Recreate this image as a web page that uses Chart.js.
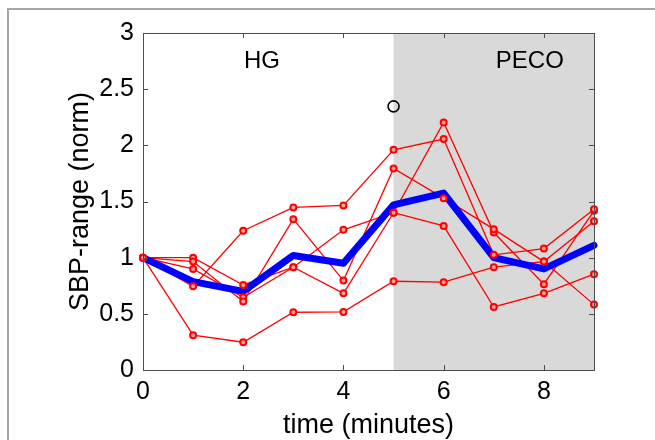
<!DOCTYPE html>
<html>
<head>
<meta charset="utf-8">
<script src="https://cdn.jsdelivr.net/npm/chart.js@4"></script>
<style>
  html, body { margin: 0; padding: 0; background: #fff; overflow: hidden; }
  #frame { position: absolute; left: 7px; top: 8px; width: 800px; height: 600px; border: 2px solid #a6a6a6; }
  #myChart { position: absolute; left: 0; top: 0; }
</style>
</head>
<body>
<div id="frame"></div>
<canvas id="myChart" width="655" height="440"></canvas>
<script>
// time points (minutes)
const minutes = [0, 1, 2, 3, 4, 5, 6, 7, 8, 9];

// individual subjects, SBP-range normalised to baseline
const subjectA = [1, 0.745, 1.24, 1.447, 1.465, 1.96, 2.056, 1.025, 1.081, 1.432];
const subjectB = [1, 0.965, 0.609, 1.343, 0.796, 1.794, 1.53, 1.254, 0.965, 0.582];
const subjectC = [1, 1.0, 0.757, 0.915, 0.683, 1.40, 2.204, 1.224, 0.764, 1.417];
const subjectD = [1, 0.90, 0.648, 0.915, 1.248, 1.40, 1.283, 0.561, 0.683, 0.853];
const subjectE = [1, 0.31, 0.247, 0.514, 0.517, 0.79, 0.782, 0.915, 0.965, 1.325];

// group mean
const meanValues = [1, 0.787, 0.70, 1.02, 0.95, 1.47, 1.575, 1.0, 0.9, 1.11];

// significance marker
const markerX = [5];
const markerY = [2.347];

// phases
const phaseLabels = ['HG', 'PECO'];
const phaseLabelX = [2.375, 7.72];
const phaseLabelY = [2.745, 2.745];
const pecoStart = 5;
const pecoEnd = 9;

// tick labels
const xTicks = [0, 2, 4, 6, 8];
const yTicks = [0, 0.5, 1, 1.5, 2, 2.5, 3];

const subjects = [subjectA, subjectB, subjectC, subjectD, subjectE];
const toPoints = (ys, xs) => ys.map((y, i) => ({ x: xs[i], y }));

const FONT = "'Liberation Sans', Arial, sans-serif";
const AXIS_COLOR = '#4d4d4d';

const datasets = [];

// red lines (drawn first)
subjects.forEach(s => {
  datasets.push({
    data: toPoints(s, minutes),
    borderColor: '#ff0000',
    borderWidth: 1.3,
    pointRadius: 0,
    showLine: true,
    clip: false,
    order: 4
  });
});

// blue mean line
datasets.push({
  data: toPoints(meanValues, minutes),
  borderColor: '#0000ff',
  borderWidth: 7,
  borderJoinStyle: 'round',
  borderCapStyle: 'round',
  pointRadius: 0,
  showLine: true,
  clip: false,
  order: 3
});

// red markers on top
subjects.forEach(s => {
  datasets.push({
    data: toPoints(s, minutes),
    showLine: false,
    pointRadius: 3,
    pointBorderWidth: 2,
    pointBorderColor: '#ff0000',
    pointBackgroundColor: '#ff9a9a',
    clip: false,
    order: 2
  });
});

// black circle
datasets.push({
  data: toPoints(markerY, markerX),
  showLine: false,
  pointRadius: 5.5,
  pointBorderWidth: 1.6,
  pointBorderColor: '#000',
  pointBackgroundColor: 'rgba(0,0,0,0)',
  clip: false,
  order: 1
});

// shaded PECO band, text, box and inward ticks
const decor = {
  id: 'decor',
  beforeDatasetsDraw(chart) {
    const { ctx, chartArea, scales } = chart;
    const x0 = scales.x.getPixelForValue(pecoStart);
    const x1 = scales.x.getPixelForValue(pecoEnd);
    ctx.save();
    ctx.fillStyle = '#d9d9d9';
    ctx.fillRect(x0, chartArea.top, x1 - x0, chartArea.bottom - chartArea.top);
    ctx.fillStyle = '#000';
    ctx.font = '24px ' + FONT;
    ctx.textAlign = 'center';
    ctx.textBaseline = 'middle';
    phaseLabels.forEach((t, i) => {
      ctx.fillText(t, scales.x.getPixelForValue(phaseLabelX[i]), scales.y.getPixelForValue(phaseLabelY[i]));
    });
    ctx.restore();
  },
  afterDraw(chart) {
    const { ctx, chartArea: a, scales } = chart;
    ctx.save();
    ctx.strokeStyle = AXIS_COLOR;
    ctx.lineWidth = 1;
    ctx.strokeRect(Math.round(a.left) + 0.5, Math.round(a.top) + 0.5,
      Math.round(a.right - a.left), Math.round(a.bottom - a.top));
    const len = 5;
    ctx.beginPath();
    xTicks.forEach(v => {
      const px = Math.round(scales.x.getPixelForValue(v)) + 0.5;
      ctx.moveTo(px, a.bottom); ctx.lineTo(px, a.bottom - len);
      ctx.moveTo(px, a.top); ctx.lineTo(px, a.top + len);
    });
    yTicks.forEach(v => {
      const py = Math.round(scales.y.getPixelForValue(v)) + 0.5;
      ctx.moveTo(a.left, py); ctx.lineTo(a.left + len, py);
      ctx.moveTo(a.right, py); ctx.lineTo(a.right - len, py);
    });
    ctx.stroke();
    ctx.restore();
  }
};

const ctx = document.getElementById('myChart').getContext('2d');
const chart = new Chart(ctx, {
  type: 'scatter',
  data: { datasets },
  options: {
    responsive: false,
    animation: false,
    devicePixelRatio: 1,
    layout: { padding: { left: 0, top: 33, right: 61, bottom: 0 } },
    plugins: { legend: { display: false }, tooltip: { enabled: false } },
    scales: {
      x: {
        type: 'linear',
        min: 0,
        max: 9,
        grid: { display: false, drawTicks: false },
        border: { display: false },
        afterBuildTicks: scale => { scale.ticks = xTicks.map(v => ({ value: v })); },
        afterFit: scale => { scale.height = 70; },
        ticks: { color: '#000', padding: 7, font: { family: FONT, size: 25 }, callback: v => String(v) },
        title: {
          display: true,
          text: 'time (minutes)',
          color: '#000',
          padding: { top: 0, bottom: 0.5 },
          font: { family: FONT, size: 27, lineHeight: 1 }
        }
      },
      y: {
        type: 'linear',
        min: 0,
        max: 3,
        grid: { display: false, drawTicks: false },
        border: { display: false },
        afterBuildTicks: scale => { scale.ticks = yTicks.map(v => ({ value: v })); },
        afterFit: scale => { scale.width = 143; },
        ticks: { color: '#000', padding: 9, font: { family: FONT, size: 25 }, callback: v => String(v) },
        title: {
          display: true,
          text: 'SBP-range (norm)',
          color: '#000',
          padding: { top: 67, bottom: 0 },
          font: { family: FONT, size: 27, lineHeight: 1 }
        }
      }
    }
  },
  plugins: [decor]
});
</script>
</body>
</html>
